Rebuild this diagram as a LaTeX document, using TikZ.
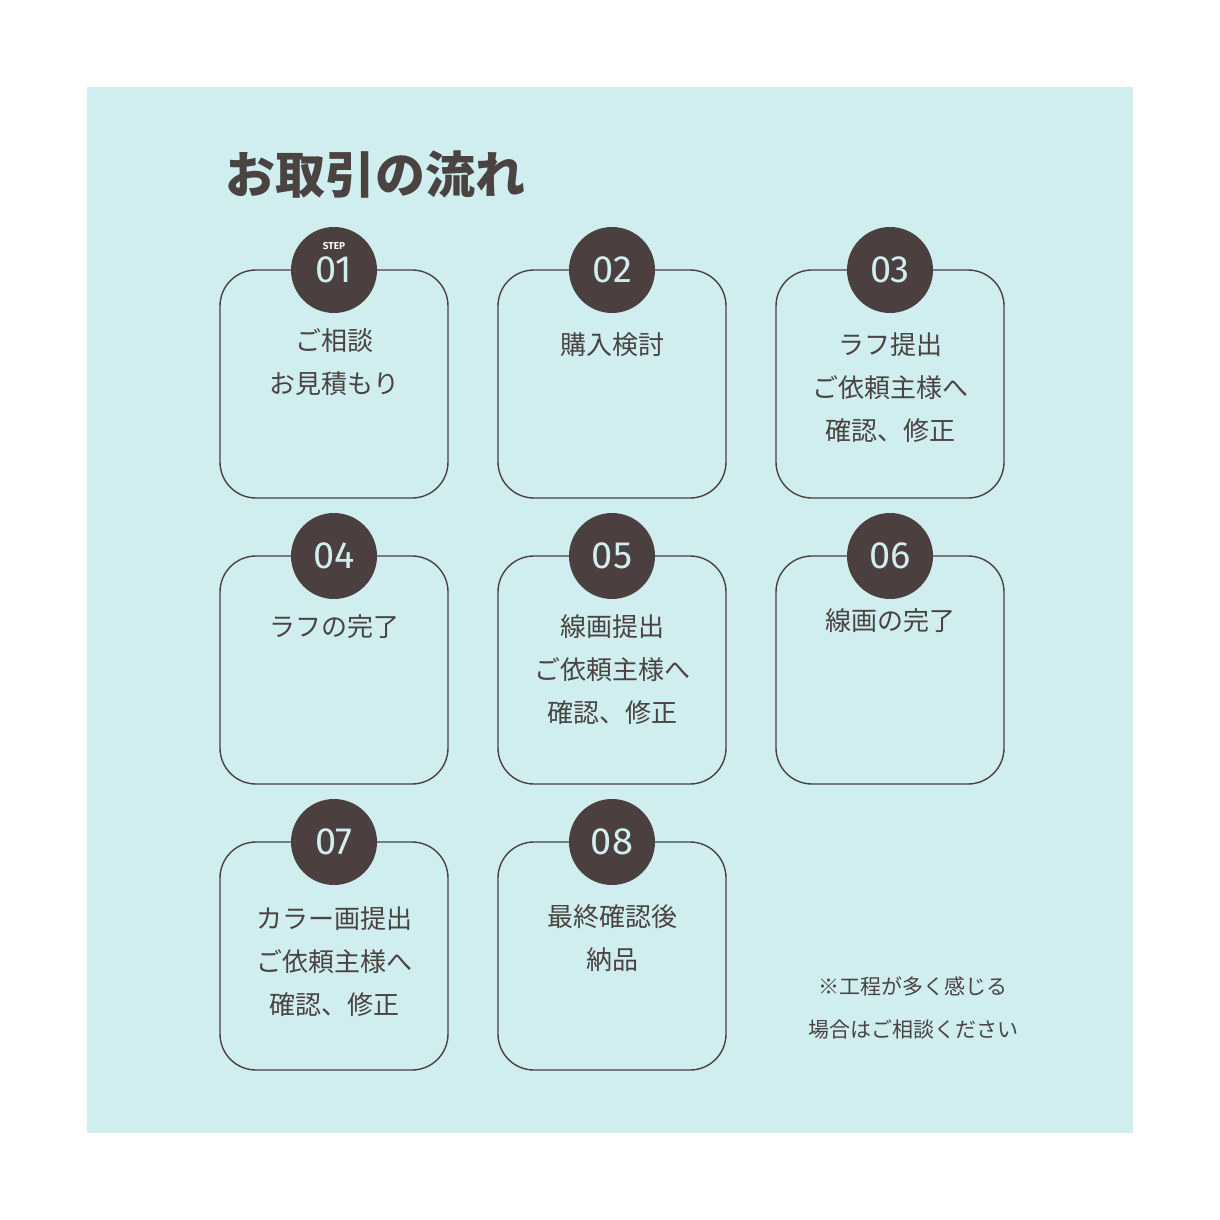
\documentclass[tikz,border=0pt]{standalone}
\usepackage{fontspec}
\setmainfont{Noto Sans CJK JP}
\newfontfamily\numf{Fira Sans}
\definecolor{bg}{HTML}{D0EEF0}
\definecolor{dk}{HTML}{4B403F}
\definecolor{tx}{HTML}{4A4342}
\begin{document}
\begin{tikzpicture}[x=0.5pt,y=-0.5pt,
 box/.style={draw=dk,line width=0.7pt,rounded corners=18pt,minimum width=114pt,minimum height=114pt},
 num/.style={circle,fill=dk,minimum size=43pt,inner sep=0pt,text=bg,font=\numf\fontsize{19}{19}\selectfont},
 lab/.style={text=tx,align=center,font=\fontsize{13}{21.5}\selectfont,anchor=north}]
\useasboundingbox (0,0) rectangle (1220,1220);
\fill[white] (0,0) rectangle (1220,1220);
\fill[bg] (87,87) rectangle (1133,1133);
\node[text=tx,anchor=west,font=\fontsize{25}{25}\selectfont\bfseries] (title) at (218,175) {お取引の流れ};
\foreach \i/\x/\y/\t/\ty in {
 1/334/384/{ご相談\\お見積もり}/322,
 2/612/384/{購入検討}/326,
 3/890/384/{ラフ提出\\ご依頼主様へ\\確認、修正}/326,
 4/334/670/{ラフの完了}/608,
 5/612/670/{線画提出\\ご依頼主様へ\\確認、修正}/608,
 6/890/670/{線画の完了}/602,
 7/334/956/{カラー画提出\\ご依頼主様へ\\確認、修正}/900,
 8/612/956/{最終確認後\\納品}/898}{
 \node[box] (b\i) at (\x,\y) {};
 \node[num] (n\i) at (\x,\y-114) {\raisebox{-2pt}{0\i}};
 \node[lab] (t\i) at (\x,\ty) {\t};
}
\node[text=white,font=\numf\fontsize{5}{5}\selectfont\bfseries] (step) at (334,246) {STEP};
\node[text=tx,align=center,font=\fontsize{10.5}{21.5}\selectfont] (note) at (913,1008) {※工程が多く感じる\\場合はご相談ください};
\end{tikzpicture}
\end{document}
